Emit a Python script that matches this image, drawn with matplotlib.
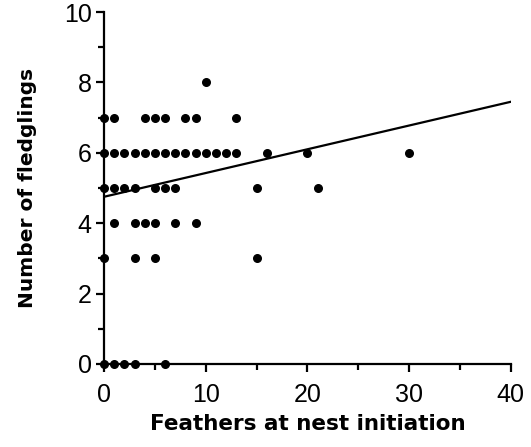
#!/usr/bin/env python3

import matplotlib
matplotlib.use('Agg')
import matplotlib.pyplot as plt
from matplotlib.ticker import MultipleLocator

plt.rcParams['font.family'] = ['Liberation Sans', 'DejaVu Sans']

# Data: (feathers, fledglings)
feathers = [0, 1, 4, 5, 6, 8, 9, 13,
            10,
            0, 1, 2, 3, 4, 5, 6, 7, 8, 9, 10, 11, 12, 13, 16, 20, 30,
            0, 1, 2, 3, 5, 6, 7, 15, 21,
            1, 3, 4, 5, 7, 9,
            0, 3, 5, 15,
            0, 1, 2, 3, 6]
fledglings = [7, 7, 7, 7, 7, 7, 7, 7,
              8,
              6, 6, 6, 6, 6, 6, 6, 6, 6, 6, 6, 6, 6, 6, 6, 6, 6,
              5, 5, 5, 5, 5, 5, 5, 5, 5,
              4, 4, 4, 4, 4, 4,
              3, 3, 3, 3,
              0, 0, 0, 0, 0]

# Regression line end points
line_x = [0, 40]
line_y = [4.75, 7.45]

textsize = 18

fig = plt.figure(figsize=(5.31, 4.47), dpi=100)
ax = fig.add_axes([0.196, 0.186, 0.766, 0.787])

ax.plot(line_x, line_y, color='black', linewidth=1.6)
ax.scatter(feathers, fledglings, s=30, color='black', zorder=3, clip_on=False)

ax.set_xlim(0, 40)
ax.set_ylim(0, 10)
ax.xaxis.set_major_locator(MultipleLocator(10))
ax.xaxis.set_minor_locator(MultipleLocator(5))
ax.yaxis.set_major_locator(MultipleLocator(2))
ax.yaxis.set_minor_locator(MultipleLocator(1))

for side in ['top', 'right']:
    ax.spines[side].set_visible(False)
for side in ['left', 'bottom']:
    ax.spines[side].set_linewidth(1.6)

ax.tick_params(which='major', length=6, width=1.6, labelsize=textsize)
ax.tick_params(axis='x', which='major', pad=8)
ax.tick_params(axis='y', which='major', pad=3)
ax.tick_params(which='minor', length=4, width=1.6)

ax.set_xlabel('Feathers at nest initiation', fontsize=15.5, fontweight='bold',
              family='DejaVu Sans', labelpad=5)
ax.set_ylabel('Number of fledglings', fontsize=14.5, fontweight='bold',
              family='DejaVu Sans', labelpad=19)

plt.savefig('out.png', dpi=100)
